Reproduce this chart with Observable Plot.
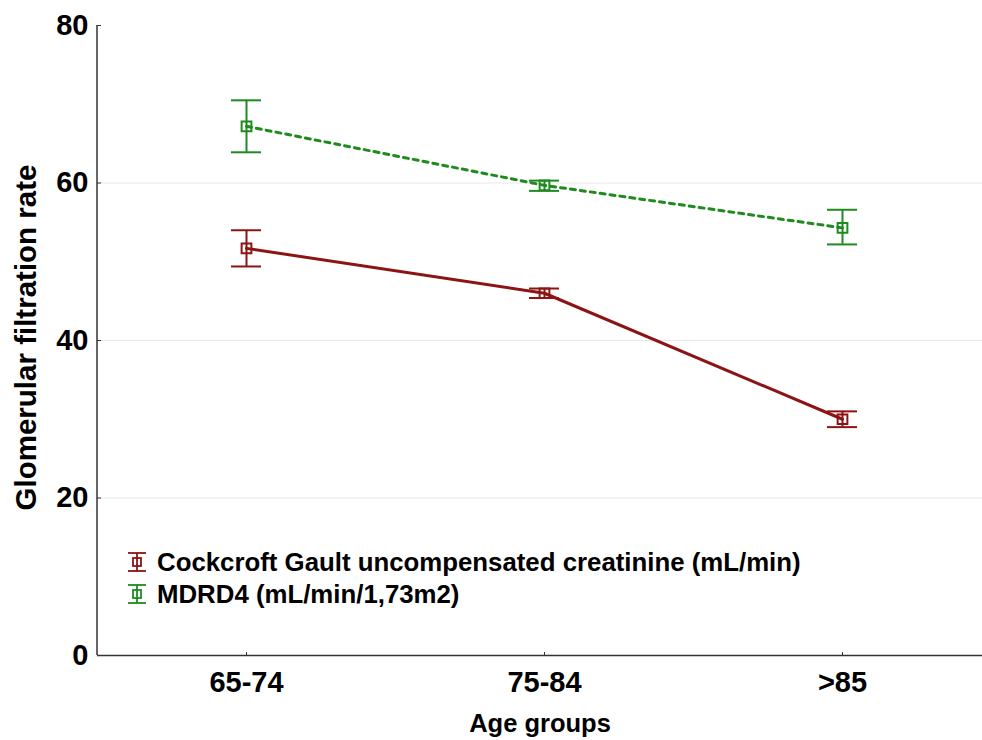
<!DOCTYPE html>
<html><head><meta charset="utf-8">
<script src="https://cdn.jsdelivr.net/npm/d3@7"></script>
<script src="https://cdn.jsdelivr.net/npm/@observablehq/plot@0.6"></script>
<style>
body{margin:0;background:#fff;font-family:"Liberation Sans",Arial,sans-serif;}
#wrap{position:relative;width:982px;height:740px;}
#legend{position:absolute;left:127px;top:546px;font-weight:bold;font-size:25.8px;color:#000;}
.row{display:flex;align-items:center;height:32px;white-space:nowrap;}
.row svg{margin-right:10px;flex:none;}
</style></head><body><div id="wrap"><div id="legend"></div></div>
<script>
const ageGroups = ["65-74", "75-84", ">85"];
const seriesNames = ["Cockcroft Gault uncompensated creatinine (mL/min)", "MDRD4 (mL/min/1,73m2)"];
const seriesColors = ["#8c1414", "#1f8a1f"];
const cgMean = [51.7, 46.0, 30.0];
const cgLow = [49.4, 45.4, 29.0];
const cgHigh = [54.0, 46.6, 31.0];
const mdrdMean = [67.2, 59.7, 54.3];
const mdrdLow = [63.9, 59.0, 52.2];
const mdrdHigh = [70.5, 60.3, 56.6];
const yTicks = [0, 20, 40, 60, 80];
const gridTicks = [20, 40, 60];
const xTitle = "Age groups";
const yTitle = "Glomerular filtration rate";

const rows = [];
ageGroups.forEach((a, i) => {
  rows.push({age: a, series: seriesNames[0], mean: cgMean[i], low: cgLow[i], high: cgHigh[i]});
  rows.push({age: a, series: seriesNames[1], mean: mdrdMean[i], low: mdrdLow[i], high: mdrdHigh[i]});
});
const cgRows = rows.filter(d => d.series === seriesNames[0]);
const mdRows = rows.filter(d => d.series === seriesNames[1]);

const leftLine = (index, scales, values, dims) =>
  d3.create("svg:line")
    .attr("x1", dims.marginLeft).attr("x2", dims.marginLeft)
    .attr("y1", scales.y(80)).attr("y2", scales.y(0))
    .attr("stroke", "#333").attr("stroke-width", 1.5).node();

const chart = Plot.plot({
  width: 982,
  height: 740,
  marginLeft: 97,
  marginRight: 0,
  marginTop: 25,
  marginBottom: 85,
  style: {fontFamily: '"Liberation Sans", Arial, sans-serif', background: "#fff", overflow: "visible"},
  x: {type: "point", domain: ageGroups, padding: 0.482, align: 0.514},
  y: {domain: [0, 80]},
  color: {domain: seriesNames, range: seriesColors},
  marks: [
    Plot.ruleY(gridTicks, {stroke: "#e8e8e8", strokeWidth: 1}),
    Plot.ruleY([0], {stroke: "#333", strokeWidth: 1.5}),
    leftLine,
    Plot.axisY({ticks: yTicks, tickSize: -4, tickPadding: 13, fontSize: 29, fontWeight: "bold", stroke: "#333", label: null}),
    Plot.axisX({tickSize: -3, tickPadding: 19, fontSize: 29, fontWeight: "bold", stroke: "#333", label: null}),
    Plot.text([xTitle], {text: d => d, frameAnchor: "bottom", dy: 76, fontSize: 25.5, fontWeight: "bold", fill: "#000"}),
    Plot.text([yTitle], {text: d => d, frameAnchor: "left", textAnchor: "middle", rotate: -90, dx: -71, dy: -3, fontSize: 29.5, fontWeight: "bold", fill: "#000"}),
    Plot.ruleX(rows, {x: "age", y1: "low", y2: "high", stroke: "series", strokeWidth: 2}),
    Plot.ruleY(rows, {x1: "age", x2: "age", y: "high", insetLeft: -15, insetRight: -15, stroke: "series", strokeWidth: 2}),
    Plot.ruleY(rows, {x1: "age", x2: "age", y: "low", insetLeft: -15, insetRight: -15, stroke: "series", strokeWidth: 2}),
    Plot.line(cgRows, {x: "age", y: "mean", stroke: "series", strokeWidth: 3}),
    Plot.line(mdRows, {x: "age", y: "mean", stroke: "series", strokeWidth: 3, strokeDasharray: "5,5"}),
    Plot.dot(rows, {x: "age", y: "mean", symbol: "square", r: 5.5, stroke: "series", fill: "none", strokeWidth: 2})
  ]
});
document.getElementById("wrap").prepend(chart);

const legend = document.getElementById("legend");
seriesNames.forEach((name, i) => {
  const c = seriesColors[i];
  const row = document.createElement("div");
  row.className = "row";
  row.innerHTML = `<svg width="20" height="24" viewBox="0 0 20 24">
    <line x1="10" x2="10" y1="3" y2="21" stroke="${c}" stroke-width="1.8"/>
    <line x1="1" x2="19" y1="3" y2="3" stroke="${c}" stroke-width="1.8"/>
    <line x1="1" x2="19" y1="21" y2="21" stroke="${c}" stroke-width="1.8"/>
    <rect x="6" y="8" width="8" height="8" fill="none" stroke="${c}" stroke-width="1.8"/>
  </svg><span>${name}</span>`;
  legend.appendChild(row);
});
</script></body></html>
